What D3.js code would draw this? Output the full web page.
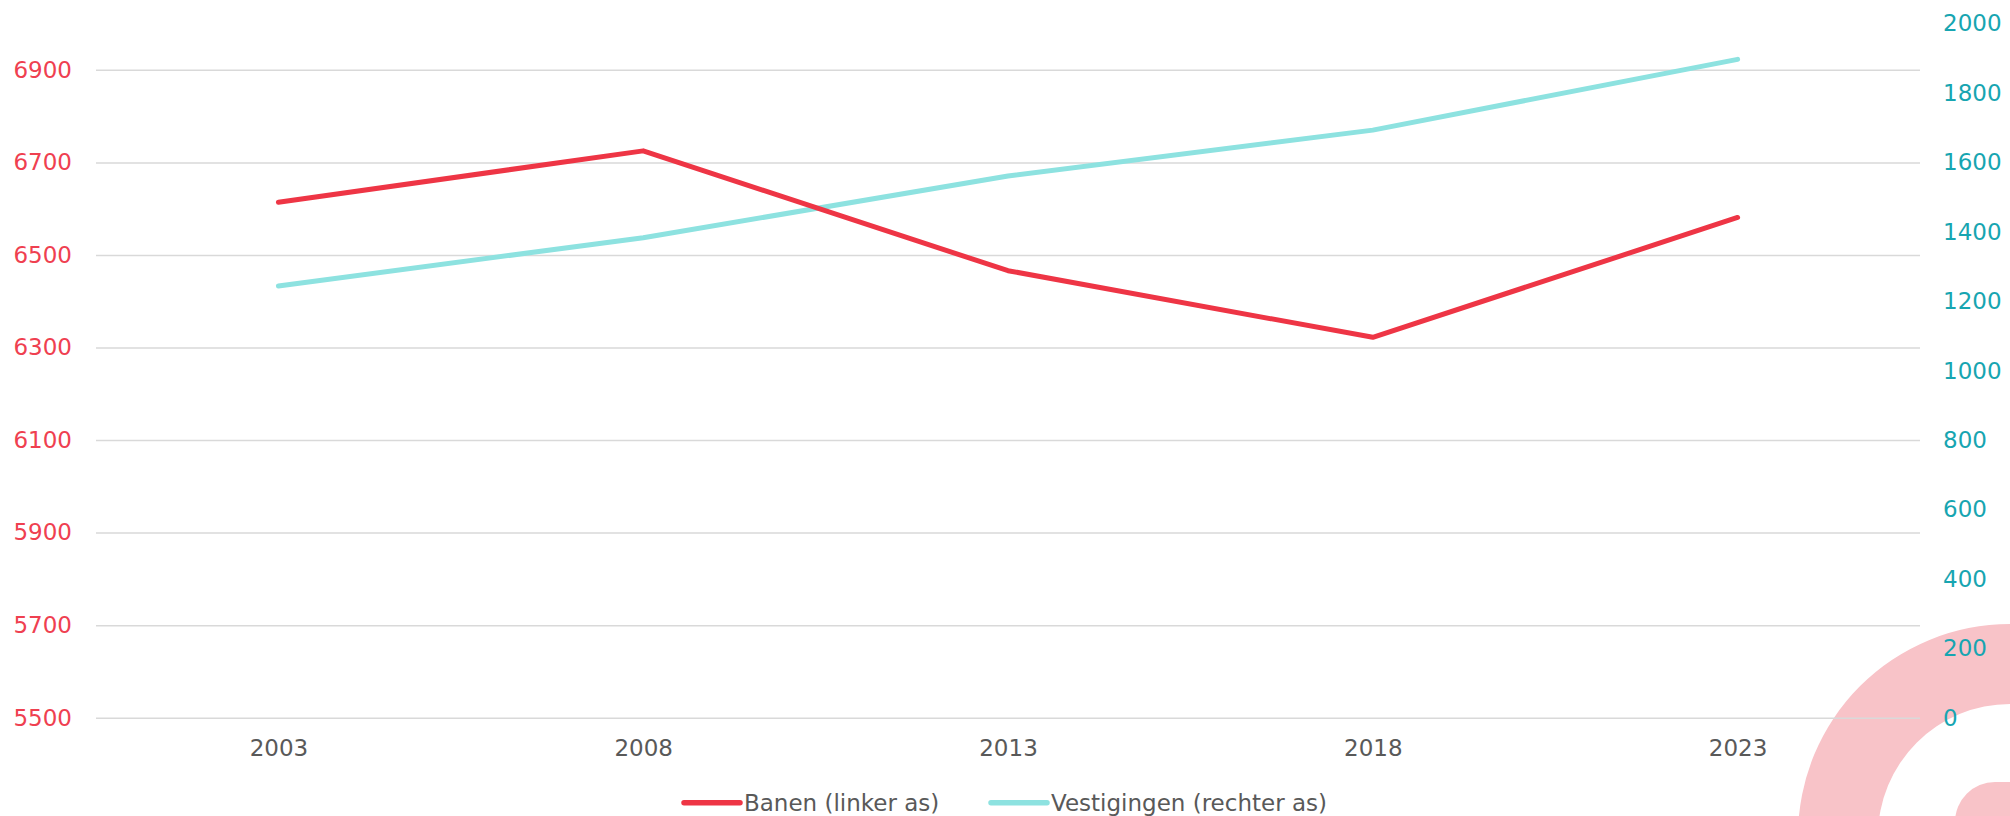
<!DOCTYPE html>
<html>
<head>
<meta charset="utf-8">
<script src="https://cdn.jsdelivr.net/npm/d3@7"></script>
<style>
  html, body { margin: 0; padding: 0; background: #fff; overflow: hidden; }
  svg { display: block; }
  text { font-family: "DejaVu Sans", sans-serif; }
</style>
</head>
<body>
<svg id="chart" width="2010" height="816"></svg>
<script>
const categories = ["2003", "2008", "2013", "2018", "2023"];
const banen = [6614, 6725, 6466, 6322, 6581];
const vestigingen = [1244, 1383, 1561, 1693, 1897];
const leftTicks = [5500, 5700, 5900, 6100, 6300, 6500, 6700, 6900];
const rightTicks = [0, 200, 400, 600, 800, 1000, 1200, 1400, 1600, 1800, 2000];
const seriesNames = ["Banen (linker as)", "Vestigingen (rechter as)"];

const W = 2010, H = 816;
const plot = { left: 96, right: 1920, top: 23.6, bottom: 717.7 };
const RED = "#EE3545", CYAN = "#8DE2E0";
const RED_TXT = "#EF4050", TEAL_TXT = "#17A5B1", GRAY_TXT = "#595959";

const svg = d3.select("#chart");

// decoration (bottom-right)
const deco = svg.append("g");
deco.append("path")
  .attr("transform", "translate(2010,836)")
  .attr("d", d3.arc()({ innerRadius: 132, outerRadius: 212, startAngle: -Math.PI, endAngle: 0 }))
  .attr("fill", "#F8C3C8");
deco.append("rect")
  .attr("x", 1955).attr("y", 782).attr("width", 120).attr("height", 120).attr("rx", 40)
  .attr("fill", "#F8C3C8");

const x = d3.scalePoint().domain(categories).range([plot.left, plot.right]).padding(0.5);
const yL = d3.scaleLinear().domain([5500, 7000]).range([plot.bottom, plot.top]);
const yR = d3.scaleLinear().domain([0, 2000]).range([plot.bottom, plot.top]);

// gridlines
svg.append("g")
  .attr("transform", `translate(${plot.left},0)`)
  .call(d3.axisLeft(yL).tickValues(leftTicks).tickSize(-(plot.right - plot.left)).tickFormat(""))
  .call(g => g.select(".domain").remove())
  .call(g => g.selectAll("line").attr("stroke", "#D9D9D9").attr("stroke-width", 1.5));

// left axis labels
svg.append("g")
  .attr("transform", `translate(${plot.left},0)`)
  .call(d3.axisLeft(yL).tickValues(leftTicks).tickSize(0).tickPadding(24).tickFormat(d3.format("d")))
  .call(g => g.select(".domain").remove())
  .call(g => g.selectAll("text").attr("fill", RED_TXT).attr("font-size", 23).attr("font-family", "DejaVu Sans"));

// right axis labels
svg.append("g")
  .attr("transform", `translate(${plot.right},0)`)
  .call(d3.axisRight(yR).tickValues(rightTicks).tickSize(0).tickPadding(23).tickFormat(d3.format("d")))
  .call(g => g.select(".domain").remove())
  .call(g => g.selectAll("text").attr("fill", TEAL_TXT).attr("font-size", 23).attr("font-family", "DejaVu Sans"));

// x axis labels
svg.append("g")
  .attr("transform", `translate(0,${plot.bottom})`)
  .call(d3.axisBottom(x).tickSize(0).tickPadding(22))
  .call(g => g.select(".domain").remove())
  .call(g => g.selectAll("text").attr("fill", GRAY_TXT).attr("font-size", 23).attr("font-family", "DejaVu Sans"));

// lines
const lineL = d3.line().x((d, i) => x(categories[i])).y(d => yL(d));
const lineR = d3.line().x((d, i) => x(categories[i])).y(d => yR(d));

svg.append("path").datum(vestigingen).attr("d", lineR)
  .attr("fill", "none").attr("stroke", CYAN).attr("stroke-width", 5)
  .attr("stroke-linecap", "round").attr("stroke-linejoin", "round");
svg.append("path").datum(banen).attr("d", lineL)
  .attr("fill", "none").attr("stroke", RED).attr("stroke-width", 5)
  .attr("stroke-linecap", "round").attr("stroke-linejoin", "round");

// legend
const legendY = 802.7;
const legendItems = [
  { name: seriesNames[0], color: RED, x0: 684 },
  { name: seriesNames[1], color: CYAN, x0: 991 }
];
const lg = svg.append("g");
legendItems.forEach(it => {
  lg.append("line").attr("x1", it.x0).attr("x2", it.x0 + 56)
    .attr("y1", legendY).attr("y2", legendY)
    .attr("stroke", it.color).attr("stroke-width", 5.5).attr("stroke-linecap", "round");
  lg.append("text").attr("x", it.x0 + 60).attr("y", legendY)
    .attr("dy", "0.35em").attr("fill", GRAY_TXT).attr("font-size", 23)
    .text(it.name);
});
</script>
</body>
</html>
